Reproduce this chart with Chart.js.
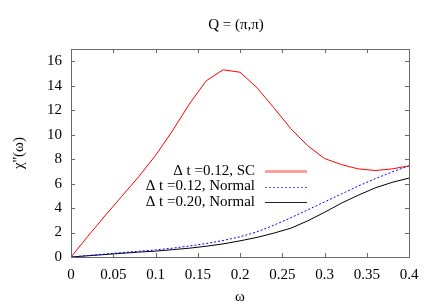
<!DOCTYPE html>
<html>
<head>
<meta charset="utf-8">
<script src="https://cdn.jsdelivr.net/npm/chart.js@4.4.0/dist/chart.umd.min.js"></script>
<style>
    html, body { margin: 0; padding: 0; background: #fff; }
    canvas { display: block; }
    .font-warm { font-family: "Liberation Serif"; position: absolute; left: -999px; top: 0; }
</style>
</head>
<body>
<span class="font-warm">Q = (&pi;,&pi;) &chi;&omega;&Delta; 0123456789</span>
<canvas id="chi-chart" width="436" height="305"></canvas>
<script>
// ------------------------------------------------------
// @Data
// ------------------------------------------------------
const omega = [0, 0.02, 0.04, 0.06, 0.08, 0.10, 0.12, 0.14, 0.16, 0.18, 0.20,
               0.22, 0.24, 0.26, 0.28, 0.30, 0.32, 0.34, 0.36, 0.38, 0.40];
const sc012 = [0, 1.7, 3.35, 4.95, 6.55, 8.3, 10.3, 12.5, 14.4, 15.3, 15.1,
               13.85, 12.2, 10.5, 9.1, 8.05, 7.55, 7.2, 7.07, 7.2, 7.45];
const normal012 = [0, 0.12, 0.24, 0.36, 0.47, 0.58, 0.72, 0.9, 1.1, 1.35, 1.65,
                   2.05, 2.6, 3.2, 3.85, 4.5, 5.15, 5.8, 6.4, 6.95, 7.45];
const normal020 = [0, 0.1, 0.2, 0.3, 0.4, 0.48, 0.6, 0.72, 0.88, 1.07, 1.32,
                   1.6, 1.95, 2.35, 2.95, 3.65, 4.4, 5.05, 5.65, 6.1, 6.45];
const seriesLabels = ['\u0394 t =0.12, SC', '\u0394 t =0.12, Normal', '\u0394 t =0.20, Normal'];
const xTicks = [0, 0.05, 0.1, 0.15, 0.2, 0.25, 0.3, 0.35, 0.4];
const yTicks = [0, 2, 4, 6, 8, 10, 12, 14, 16];

const FONT = '15px "Liberation Serif", "DejaVu Serif", serif';

// key sample styles (gnuplot draws the key samples a bit heavier)
const keyStyles = [
    { color: '#ff8c8c', width: 2.5, dash: [] },
    { color: '#5050ff', width: 1, dash: [2, 2] },
    { color: '#222222', width: 1, dash: [] }
];

function pairs(ys) {
    return omega.map(function (x, i) { return { x: x, y: ys[i] }; });
}

// gnuplot-like frame, inward ticks, labels and key
const gnuplotFrame = {
    id: 'gnuplotFrame',
    afterDraw: function (chart) {
        const ctx = chart.ctx;
        const a = chart.chartArea;
        const xs = chart.scales.x;
        const ys = chart.scales.y;
        const tick = 4;

        ctx.save();
        ctx.strokeStyle = '#6a6a6a';
        ctx.lineWidth = 1;
        ctx.strokeRect(Math.round(a.left) + 0.5, Math.round(a.top) + 0.5,
            Math.round(a.right - a.left), Math.round(a.bottom - a.top));

        ctx.beginPath();
        xTicks.forEach(function (v) {
            let px = Math.round(xs.getPixelForValue(v)) + 0.5;
            ctx.moveTo(px, a.bottom); ctx.lineTo(px, a.bottom - tick);
            ctx.moveTo(px, a.top); ctx.lineTo(px, a.top + tick);
        });
        yTicks.forEach(function (v) {
            let py = Math.round(ys.getPixelForValue(v)) + 0.5;
            ctx.moveTo(a.left, py); ctx.lineTo(a.left + tick, py);
            ctx.moveTo(a.right, py); ctx.lineTo(a.right - tick, py);
        });
        ctx.stroke();

        ctx.fillStyle = '#000';
        ctx.font = FONT;

        // tick labels
        ctx.textAlign = 'center';
        ctx.textBaseline = 'middle';
        xTicks.forEach(function (v) {
            ctx.fillText(String(v), xs.getPixelForValue(v), a.bottom + 18);
        });
        ctx.textAlign = 'right';
        yTicks.forEach(function (v) {
            ctx.fillText(String(v), a.left - 9, ys.getPixelForValue(v));
        });

        // title and axis titles
        ctx.textAlign = 'center';
        ctx.fillText('Q = (\u03c0,\u03c0)', 236, 25);
        ctx.fillText('\u03c9', 240, 297);
        ctx.save();
        ctx.translate(19, 153);
        ctx.rotate(-Math.PI / 2);
        ctx.fillText('\u03c7\'\'(\u03c9)', 0, 0);
        ctx.restore();

        // key: text right aligned, line sample to the right
        chart.data.datasets.forEach(function (ds, i) {
            let y = 171 + i * 15.5;
            let st = keyStyles[i];
            ctx.textAlign = 'right';
            ctx.fillStyle = '#000';
            ctx.fillText(ds.label, 255, y);
            ctx.beginPath();
            ctx.strokeStyle = st.color;
            ctx.lineWidth = st.width;
            ctx.setLineDash(st.dash);
            ctx.moveTo(265, Math.round(y) + 0.5);
            ctx.lineTo(307, Math.round(y) + 0.5);
            ctx.stroke();
            ctx.setLineDash([]);
        });
        ctx.restore();
    }
};

function drawChart() {
    let chiBox = document.getElementById('chi-chart');

    new Chart(chiBox.getContext('2d'), {
        type: 'line',
        data: {
            datasets: [{
                label: seriesLabels[0],
                data: pairs(sc012),
                borderColor: '#ff0000',
                borderWidth: 1,
                pointRadius: 0
            }, {
                label: seriesLabels[1],
                data: pairs(normal012),
                borderColor: '#0000ff',
                borderWidth: 1,
                borderDash: [2, 2],
                pointRadius: 0
            }, {
                label: seriesLabels[2],
                data: pairs(normal020),
                borderColor: '#000000',
                borderWidth: 1,
                pointRadius: 0
            }]
        },
        options: {
            responsive: false,
            animation: false,
            layout: {
                padding: { left: 71, right: 27, top: 49, bottom: 48 }
            },
            elements: { line: { tension: 0 } },
            scales: {
                x: { type: 'linear', min: 0, max: 0.4, display: false },
                y: { type: 'linear', min: 0, max: 17, display: false }
            },
            plugins: {
                legend: { display: false },
                tooltip: { enabled: false }
            }
        },
        plugins: [gnuplotFrame]
    });
}

if (document.fonts && document.fonts.load) {
    document.fonts.load(FONT, 'Q\u03c0\u03c70').then(drawChart, drawChart);
} else {
    drawChart();
}
</script>
</body>
</html>
